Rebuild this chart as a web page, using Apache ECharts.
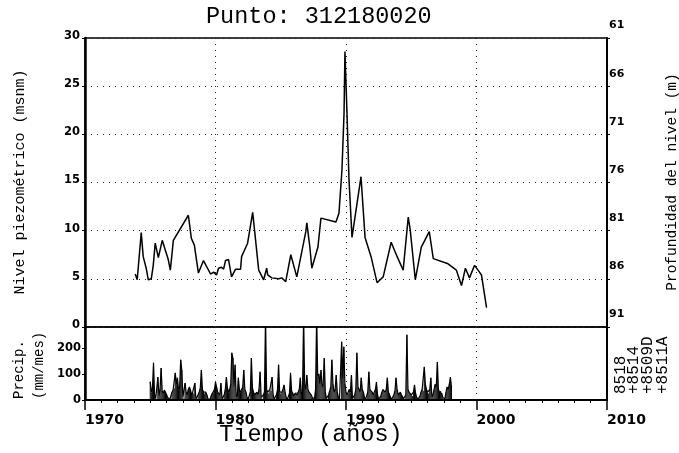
<!DOCTYPE html>
<html>
<head>
<meta charset="utf-8">
<script src="https://cdn.jsdelivr.net/npm/echarts@6.0.0/dist/echarts.min.js"></script>
<style>html,body{margin:0;padding:0;background:#fff}#c{width:679px;height:453px}</style>
</head>
<body>
<div id="c"></div>
<script>
// ---- data ----
const titleText = 'Punto: 312180020';
const nivelYears = [1973.85,1974.0,1974.31,1974.46,1974.69,1974.85,1975.08,1975.23,1975.38,1975.62,1975.92,1976.15,1976.38,1976.54,1976.77,1977.92,1978.15,1978.38,1978.69,1979.08,1979.62,1979.85,1980.08,1980.23,1980.46,1980.62,1980.77,1981.0,1981.23,1981.54,1981.92,1982.0,1982.46,1982.85,1983.31,1983.69,1983.92,1984.0,1984.31,1984.85,1985.08,1985.38,1985.77,1986.23,1986.92,1987.0,1987.23,1987.38,1987.85,1988.08,1989.23,1989.46,1989.69,1989.85,1989.92,1990.0,1990.08,1990.23,1990.46,1991.15,1991.46,1991.92,1992.38,1992.85,1993.46,1993.92,1994.38,1994.77,1994.92,1995.31,1995.77,1996.38,1996.69,1997.77,1998.46,1998.85,1999.15,1999.46,1999.85,2000.23,2000.38,2000.77];
const nivel = [5.5,4.9,9.8,7.3,6.1,4.9,5.0,6.4,8.7,7.2,9.0,8.0,7.0,5.9,9.0,11.6,9.2,8.5,5.6,6.9,5.5,5.7,5.4,6.1,6.2,6.0,6.9,7.0,5.2,6.0,6.0,7.3,8.7,11.9,5.9,4.9,6.1,5.4,5.1,5.0,5.1,4.7,7.5,5.2,9.9,10.8,8.3,6.1,8.3,11.3,10.9,11.8,16.3,22.2,28.6,25.3,22.0,15.3,9.3,15.6,9.3,7.3,4.6,5.2,8.8,7.3,5.9,11.4,10.1,4.9,8.3,9.9,7.1,6.6,5.9,4.3,6.1,5.1,6.4,5.7,5.4,2.0];
const precipStartYear = 1975;
const precip = [
  70,30,45,143,20,5,2,88,15,40,123,35,
  25,38,30,20,10,3,2,5,30,38,45,104,
  60,85,40,50,154,115,10,5,65,30,20,40,
  50,38,20,30,25,65,3,2,20,30,45,115,
  40,31,25,30,20,5,1,2,15,25,30,40,
  69,50,30,25,20,65,3,2,20,40,88,45,
  30,40,60,181,161,50,135,20,10,85,40,30,
  35,50,115,40,30,10,2,5,30,161,45,30,
  20,25,30,20,40,108,10,3,20,30,320,40,
  30,25,40,35,88,20,3,2,20,40,135,30,
  25,30,40,58,30,10,2,5,25,104,35,30,
  15,25,30,20,30,40,85,20,30,320,60,40,
  96,40,30,25,20,10,3,5,40,320,90,100,
  60,115,50,60,161,30,5,2,20,35,50,154,
  60,30,40,96,30,10,2,5,223,80,204,60,
  30,20,25,40,30,96,5,2,20,40,181,50,
  40,30,85,40,30,10,2,5,30,108,40,35,
  30,20,25,40,69,20,3,2,15,30,40,35,
  30,40,85,30,25,10,2,3,20,35,85,40,
  20,25,30,20,15,5,2,20,250,40,30,25,
  20,15,30,58,25,10,2,3,15,30,40,35,
  127,60,40,30,25,40,85,10,20,40,60,50,
  146,40,30,35,25,10,3,5,30,50,40,60,
  88,50
];
const stations = ['8518','+8514','+8509D','+8511A'];
const leftName = 'Nivel piezométrico (msnm)';
const rightName = 'Profundidad del nivel (m)';
const precipName = ['Precip.','(mm/mes)'];
const xName = 'Tiempo (años)';

// ---- chart ----
const nivelData = nivelYears.map((y, i) => [y, nivel[i]]);
const precipData = precip.map((v, i) => [precipStartYear + i / 12, v]);

const mono = 'Liberation Mono';
const tickFont = { fontFamily: 'DejaVu Sans', fontWeight: 'bold', color: '#000' };
const dotted = { color: '#222', width: 1, type: [1, 5] };
const plain = v => String(v);

const chart = echarts.init(document.getElementById('c'), null, { renderer: 'canvas' });
const stationX = [621, 634, 648, 663];

chart.setOption({
  animation: false,
  backgroundColor: '#fff',
  title: {
    text: titleText, left: 206, top: 5, padding: 0,
    textStyle: { fontFamily: mono, fontSize: 23.5, fontWeight: 'normal', color: '#000' }
  },
  grid: [
    { left: 85, top: 38, width: 522, height: 289, show: true, borderColor: '#000', borderWidth: 1.5 },
    { left: 85, top: 327, width: 522, height: 73, show: true, borderColor: '#000', borderWidth: 1.5 }
  ],
  xAxis: [
    { gridIndex: 0, type: 'value', min: 1970, max: 2010, interval: 10,
      axisLine: { show: false }, axisTick: { show: false }, axisLabel: { show: false },
      splitLine: { show: true, lineStyle: dotted } },
    { gridIndex: 1, type: 'value', min: 1970, max: 2010, interval: 10,
      axisLine: { show: true, lineStyle: { color: '#000', width: 2 } },
      axisTick: { show: true, length: 10, lineStyle: { color: '#000', width: 1.5 } },
      minorTick: { show: true, splitNumber: 8, length: 3, lineStyle: { color: '#000', width: 1 } },
      axisLabel: Object.assign({ align: 'left', margin: 13, fontSize: 14, hideOverlap: false,
        showMinLabel: true, showMaxLabel: true, formatter: plain }, tickFont),
      splitLine: { show: true, lineStyle: dotted } }
  ],
  yAxis: [
    { gridIndex: 0, type: 'value', position: 'left', min: 0, max: 30, interval: 5,
      axisLine: { show: true, lineStyle: { color: '#000', width: 2.5 } },
      axisTick: { show: true, length: 3, lineStyle: { color: '#000' } },
      axisLabel: Object.assign({ fontSize: 11.5, margin: 5, verticalAlign: 'bottom', padding: [0, 0, -4, 0], formatter: plain }, tickFont),
      splitLine: { show: true, lineStyle: dotted } },
    { gridIndex: 0, type: 'value', position: 'right', min: 61, max: 91, interval: 5, inverse: true,
      axisLine: { show: true, lineStyle: { color: '#000', width: 2 } },
      axisTick: { show: true, length: 3, lineStyle: { color: '#000' } },
      axisLabel: Object.assign({ fontSize: 11, margin: 2, verticalAlign: 'bottom', padding: [0, 0, 7, 0], formatter: plain }, tickFont),
      splitLine: { show: false } },
    { gridIndex: 1, type: 'value', position: 'left', min: 0, max: 280, interval: 100,
      axisLine: { show: true, lineStyle: { color: '#000', width: 2.5 } },
      axisTick: { show: true, length: 3, lineStyle: { color: '#000' } },
      axisLabel: Object.assign({ fontSize: 11.5, margin: 4, showMaxLabel: false, formatter: plain }, tickFont),
      splitLine: { show: false } },
    { gridIndex: 1, type: 'value', position: 'right', min: 0, max: 280, interval: 100,
      axisLine: { show: true, lineStyle: { color: '#000', width: 2 } },
      axisTick: { show: false }, axisLabel: { show: false }, splitLine: { show: false } }
  ],
  series: [
    { type: 'line', name: 'Nivel', xAxisIndex: 0, yAxisIndex: 0, data: nivelData,
      symbol: 'none', lineStyle: { color: '#000', width: 1.5 }, itemStyle: { color: '#000' } },
    { type: 'line', name: 'Precip', xAxisIndex: 1, yAxisIndex: 2, data: precipData, clip: true,
      symbol: 'none', lineStyle: { color: '#000', width: 1.2 }, itemStyle: { color: '#000' } },
    { type: 'bar', name: 'PrecipBar', xAxisIndex: 1, yAxisIndex: 2, data: precipData, clip: true,
      barWidth: 0.7, itemStyle: { color: '#000' } }
  ],
  graphic: [
    { type: 'text', x: 20, y: 182, rotation: Math.PI / 2,
      style: { text: leftName, fontFamily: mono, fontSize: 15, fill: '#000', align: 'center', verticalAlign: 'middle' } },
    { type: 'text', x: 672, y: 182, rotation: Math.PI / 2,
      style: { text: rightName, fontFamily: mono, fontSize: 14.5, fill: '#000', align: 'center', verticalAlign: 'middle' } },
    { type: 'text', x: 19, y: 399, rotation: Math.PI / 2,
      style: { text: precipName[0], fontFamily: mono, fontSize: 14, fill: '#000', align: 'left', verticalAlign: 'middle' } },
    { type: 'text', x: 39, y: 399, rotation: Math.PI / 2,
      style: { text: precipName[1], fontFamily: mono, fontSize: 14, fill: '#000', align: 'left', verticalAlign: 'middle' } },
    { type: 'text', x: 311, y: 435,
      style: { text: xName, fontFamily: mono, fontSize: 23.5, fill: '#000', align: 'center', verticalAlign: 'middle' } }
  ].concat(stations.map((s, i) => ({
    type: 'text', x: stationX[i], y: 394, rotation: Math.PI / 2,
    style: { text: s, fontFamily: mono, fontSize: 16, fill: '#000', align: 'left', verticalAlign: 'middle' }
  })))
});
</script>
</body>
</html>
